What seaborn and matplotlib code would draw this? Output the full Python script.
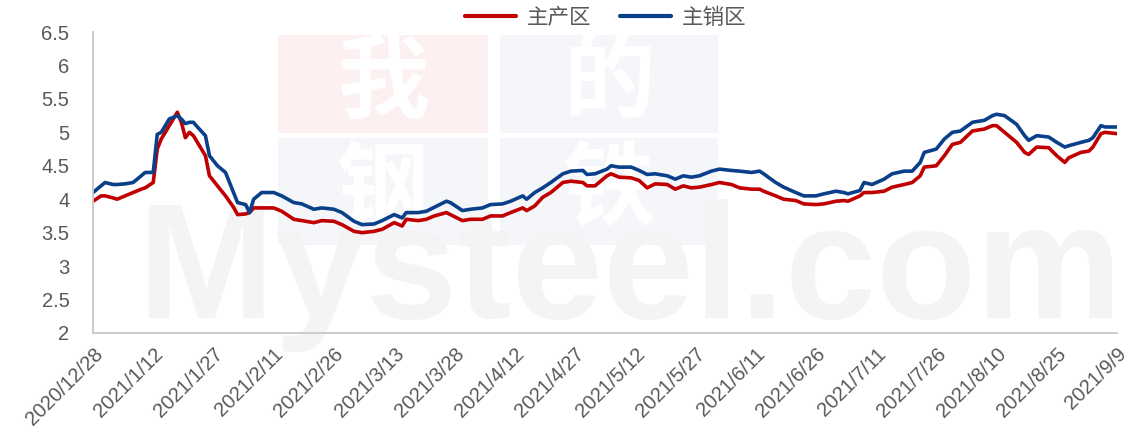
import numpy as np
import pandas as pd
import seaborn as sns
import matplotlib.pyplot as plt
import matplotlib.transforms as mtransforms
from matplotlib.patches import Rectangle

# day offsets from 2020/12/28 where the curves were read
day = [0, 2, 3, 5, 6, 8, 10, 12, 13, 15, 16, 17, 19, 21, 22, 23, 24, 25, 26, 28,
       29, 31, 33, 35, 36, 38, 39, 40, 42, 45, 47, 50, 52, 55, 57, 60, 62, 65, 67, 70,
       72, 75, 77, 78, 81, 83, 85, 88, 89, 92, 94, 97, 99, 102, 104, 107, 108, 110, 112, 114,
       117, 119, 122, 123, 125, 128, 129, 131, 134, 136, 138, 140, 143, 145, 147, 149, 151, 154, 156, 159,
       161, 164, 166, 167, 170, 172, 175, 177, 180, 182, 185, 187, 188, 191, 192, 194, 197, 199, 202, 204,
       206, 207, 210, 212, 214, 216, 219, 222, 224, 225, 227, 230, 232, 233, 235, 238, 240, 242, 243, 246,
       248, 249, 251, 252, 255]

chan = [3.97, 4.05, 4.05, 4.02, 4.00, 4.05, 4.10, 4.15, 4.17, 4.25, 4.75, 4.90, 5.10, 5.30, 5.15, 4.92, 5.00, 4.95, 4.85, 4.65,
        4.35, 4.20, 4.05, 3.88, 3.77, 3.78, 3.80, 3.87, 3.87, 3.87, 3.82, 3.70, 3.68, 3.65, 3.68, 3.67, 3.62, 3.52, 3.50, 3.52,
        3.55, 3.65, 3.60, 3.70, 3.68, 3.70, 3.75, 3.80, 3.77, 3.68, 3.70, 3.70, 3.75, 3.75, 3.80, 3.87, 3.83, 3.90, 4.03, 4.10,
        4.25, 4.27, 4.25, 4.20, 4.20, 4.35, 4.38, 4.33, 4.32, 4.28, 4.17, 4.23, 4.22, 4.15, 4.20, 4.17, 4.18, 4.22, 4.25, 4.22,
        4.17, 4.15, 4.15, 4.12, 4.05, 4.00, 3.98, 3.93, 3.92, 3.93, 3.97, 3.98, 3.97, 4.05, 4.10, 4.10, 4.12, 4.18, 4.22, 4.25,
        4.35, 4.48, 4.50, 4.65, 4.82, 4.85, 5.02, 5.05, 5.10, 5.10, 5.00, 4.85, 4.70, 4.67, 4.78, 4.77, 4.65, 4.55, 4.62, 4.70,
        4.72, 4.78, 4.98, 5.00, 4.98]

xiao = [4.10, 4.20, 4.25, 4.22, 4.22, 4.23, 4.25, 4.35, 4.40, 4.40, 4.97, 5.00, 5.20, 5.25, 5.20, 5.13, 5.15, 5.15, 5.08, 4.95,
        4.65, 4.50, 4.40, 4.10, 3.95, 3.92, 3.80, 4.00, 4.10, 4.10, 4.05, 3.95, 3.93, 3.85, 3.87, 3.85, 3.80, 3.67, 3.62, 3.63,
        3.68, 3.77, 3.72, 3.80, 3.80, 3.82, 3.88, 3.97, 3.95, 3.83, 3.85, 3.87, 3.92, 3.93, 3.97, 4.05, 4.00, 4.10, 4.17, 4.25,
        4.38, 4.42, 4.43, 4.37, 4.38, 4.45, 4.50, 4.48, 4.48, 4.43, 4.37, 4.38, 4.35, 4.30, 4.35, 4.33, 4.35, 4.42, 4.45, 4.43,
        4.42, 4.40, 4.42, 4.38, 4.25, 4.18, 4.10, 4.05, 4.05, 4.08, 4.12, 4.10, 4.08, 4.13, 4.25, 4.22, 4.30, 4.38, 4.42, 4.42,
        4.55, 4.70, 4.75, 4.90, 5.00, 5.02, 5.15, 5.18, 5.25, 5.27, 5.25, 5.12, 4.95, 4.88, 4.95, 4.93, 4.85, 4.78, 4.80, 4.85,
        4.88, 4.92, 5.10, 5.08, 5.08]

series_names = ['主产区', '主销区']
series_colors = ['#C00000', '#0A3F8A']
start = pd.Timestamp('2020-12-28')
end = pd.Timestamp('2021-09-09')

dates = start + pd.to_timedelta(day, unit='D')
df = pd.concat([
    pd.DataFrame({'date': dates, 'value': chan, 'area': series_names[0]}),
    pd.DataFrame({'date': dates, 'value': xiao, 'area': series_names[1]}),
])

sns.set_theme(style='white')
plt.rcParams['font.family'] = ['Liberation Sans', 'Noto Sans CJK SC', 'DejaVu Sans']

W, H = 1132, 447
fig = plt.figure(figsize=(W / 100, H / 100), dpi=100)

# watermark on a background axes (pixel coords, y down)
bg = fig.add_axes([0, 0, 1, 1], zorder=0)
bg.set_xlim(0, W)
bg.set_ylim(H, 0)
bg.axis('off')
boxes = [(278, 35, 210, 98, '#fcf0f0', '我'), (500, 35, 218, 98, '#f5f6fa', '的'),
         (278, 138, 210, 107, '#f5f6fa', '钢'), (500, 138, 218, 107, '#f5f6fa', '铁')]
for bx, by, bw, bh, bc, ch in boxes:
    bg.add_patch(Rectangle((bx, by), bw, bh, color=bc, lw=0))
    bg.text(bx + bw / 2, by + bh / 2, ch, color='white', fontsize=66, fontweight='bold',
            ha='center', va='center', family=['Noto Sans CJK SC'])
bg.text(630, 318, 'Mysteel.com', color='#f4f4f4', fontsize=118, fontweight='bold',
        ha='center', va='baseline')

ax = fig.add_axes([93 / W, 1 - 333 / H, (1117 - 93) / W, (333 - 32) / H], zorder=1)
ax.patch.set_alpha(0)

sns.lineplot(data=df, x='date', y='value', hue='area', palette=series_colors,
             linewidth=2.6, ax=ax, legend=False)

ax.set_xlim(start, end)
ax.set_ylim(2, 6.5)
yt = np.arange(2, 6.51, 0.5)
ax.set_yticks(yt)
ax.set_yticklabels([f'{v:g}' for v in yt])
xt = pd.date_range(start, end, freq='15D')
ax.set_xticks(xt)
ax.set_xticklabels([f'{d.year}/{d.month}/{d.day}' for d in xt], rotation=45,
                   ha='right', va='top', rotation_mode='anchor')
shift = mtransforms.ScaledTranslation(1 / 100, -6 / 100, fig.dpi_scale_trans)
for lab in ax.get_xticklabels():
    lab.set_transform(lab.get_transform() + shift)
ax.set_xlabel('')
ax.set_ylabel('')

for s in ['top', 'right']:
    ax.spines[s].set_visible(False)
for s in ['left', 'bottom']:
    ax.spines[s].set_color('#c8c8c8')
    ax.spines[s].set_linewidth(1.3)
ax.tick_params(axis='both', colors='#c8c8c8', labelcolor='#595959', labelsize=14.5,
               length=6, width=1.3, direction='out')
ax.tick_params(axis='y', pad=11)
ax.tick_params(axis='x', pad=2)

handles = [plt.Line2D([], [], color=c, lw=3) for c in series_colors]
fig.legend(handles, series_names, loc='center', bbox_to_anchor=(0.535, 0.96),
           ncol=2, frameon=False, labelcolor='#595959',
           handlelength=2.4, handletextpad=0.5, columnspacing=1.3,
           prop={'family': ['Noto Sans CJK SC'], 'size': 15.5})

fig.savefig('out.png', dpi=100)
